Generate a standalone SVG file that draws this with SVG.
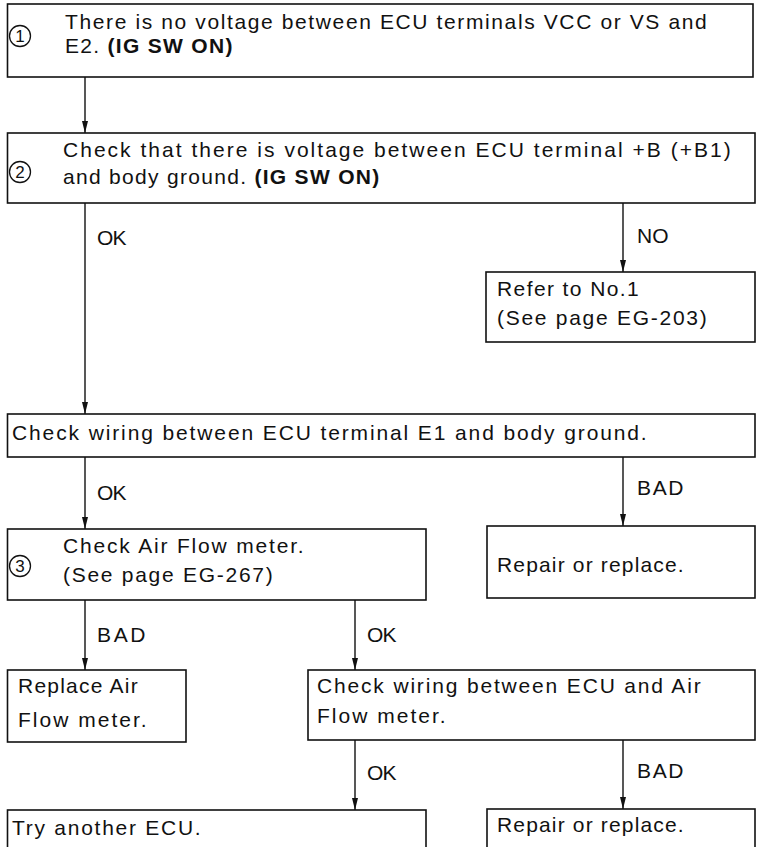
<svg xmlns="http://www.w3.org/2000/svg" width="758" height="847" viewBox="0 0 758 847">
<style>
.box{fill:#fff;stroke:#111;stroke-width:1.6}
.t{font-family:"Liberation Sans","Arial",sans-serif;font-size:21px;fill:#111;letter-spacing:1.3px}
.b{font-weight:bold}
.lbl{font-family:"Liberation Sans","Arial",sans-serif;font-size:21px;fill:#111;letter-spacing:1.5px}
.num{font-family:"Liberation Sans","Arial",sans-serif;font-size:17px;fill:#111;text-anchor:middle}
.circ{fill:none;stroke:#111;stroke-width:1.3}
.con{fill:none;stroke:#111;stroke-width:1.4;marker-end:url(#arr)}
</style>
<defs>
<marker id="arr" viewBox="0 0 12 6" refX="12" refY="3" markerWidth="12" markerHeight="6" markerUnits="userSpaceOnUse" orient="auto">
<path d="M0,0 L12,3 L0,6 Z" fill="#111"/>
</marker>
</defs>
<rect width="758" height="847" fill="#fff"/>

<g id="connectors">
<line class="con" x1="85" y1="77" x2="85" y2="133"/>
<line class="con" x1="85" y1="203" x2="85" y2="414"/>
<line class="con" x1="623" y1="203" x2="623" y2="272"/>
<line class="con" x1="85" y1="457" x2="85" y2="529"/>
<line class="con" x1="623" y1="457" x2="623" y2="526"/>
<line class="con" x1="85" y1="600" x2="85" y2="670"/>
<line class="con" x1="355" y1="600" x2="355" y2="670"/>
<line class="con" x1="355" y1="740" x2="355" y2="810"/>
<line class="con" x1="623" y1="740" x2="623" y2="809"/>
<text class="lbl" x="97" y="245" textLength="31">OK</text>
<text class="lbl" x="637" y="243" textLength="33">NO</text>
<text class="lbl" x="97" y="500" textLength="31">OK</text>
<text class="lbl" x="637" y="495" textLength="48">BAD</text>
<text class="lbl" x="97" y="642" textLength="50">BAD</text>
<text class="lbl" x="367" y="642" textLength="31">OK</text>
<text class="lbl" x="367" y="780" textLength="31">OK</text>
<text class="lbl" x="637" y="778" textLength="48">BAD</text>
</g>

<g id="n1">
<rect class="box" x="7.5" y="4" width="745.5" height="73"/>
<circle class="circ" cx="20" cy="36" r="10.5"/>
<text class="num" x="20" y="42">1</text>
<text class="t" x="65" y="29" textLength="643" lengthAdjust="spacing">There is no voltage between ECU terminals VCC or VS and</text>
<text class="t" x="65" y="53">E2. <tspan class="b">(IG SW ON)</tspan></text>
</g>

<g id="n2">
<rect class="box" x="7.5" y="133" width="747.5" height="70"/>
<circle class="circ" cx="20" cy="172" r="10.5"/>
<text class="num" x="20" y="178">2</text>
<text class="t" x="63" y="157" textLength="669" lengthAdjust="spacing">Check that there is voltage between ECU terminal +B (+B1)</text>
<text class="t" x="63" y="184">and body ground. <tspan class="b">(IG SW ON)</tspan></text>
</g>

<g id="n_refer">
<rect class="box" x="486" y="272" width="269" height="70"/>
<text class="t" x="497" y="296" textLength="143" lengthAdjust="spacing">Refer to No.1</text>
<text class="t" x="497" y="325" textLength="211" lengthAdjust="spacing">(See page EG-203)</text>
</g>

<g id="n_e1">
<rect class="box" x="7.5" y="414" width="747.5" height="43"/>
<text class="t" x="12" y="440" textLength="636" lengthAdjust="spacing">Check wiring between ECU terminal E1 and body ground.</text>
</g>

<g id="n_repair1">
<rect class="box" x="487" y="526" width="268" height="72"/>
<text class="t" x="497" y="572" textLength="188" lengthAdjust="spacing">Repair or replace.</text>
</g>

<g id="n3">
<rect class="box" x="7.5" y="529" width="418.5" height="71"/>
<circle class="circ" cx="20" cy="566" r="10.5"/>
<text class="num" x="20" y="572">3</text>
<text class="t" x="63" y="553" textLength="242" lengthAdjust="spacing">Check Air Flow meter.</text>
<text class="t" x="63" y="582" textLength="211" lengthAdjust="spacing">(See page EG-267)</text>
</g>

<g id="n_replace">
<rect class="box" x="7.5" y="670" width="178.5" height="72"/>
<text class="t" x="18" y="693" textLength="121" lengthAdjust="spacing">Replace Air</text>
<text class="t" x="18" y="727" textLength="130" lengthAdjust="spacing">Flow meter.</text>
</g>

<g id="n_wiring">
<rect class="box" x="308" y="670" width="447" height="70"/>
<text class="t" x="317" y="693" textLength="385" lengthAdjust="spacing">Check wiring between ECU and Air</text>
<text class="t" x="317" y="723" textLength="130" lengthAdjust="spacing">Flow meter.</text>
</g>

<g id="n_try">
<rect class="box" x="7.5" y="810" width="418.5" height="60"/>
<text class="t" x="12" y="835" textLength="190" lengthAdjust="spacing">Try another ECU.</text>
</g>

<g id="n_repair2">
<rect class="box" x="487" y="809" width="268" height="60"/>
<text class="t" x="497" y="832" textLength="188" lengthAdjust="spacing">Repair or replace.</text>
</g>
</svg>
